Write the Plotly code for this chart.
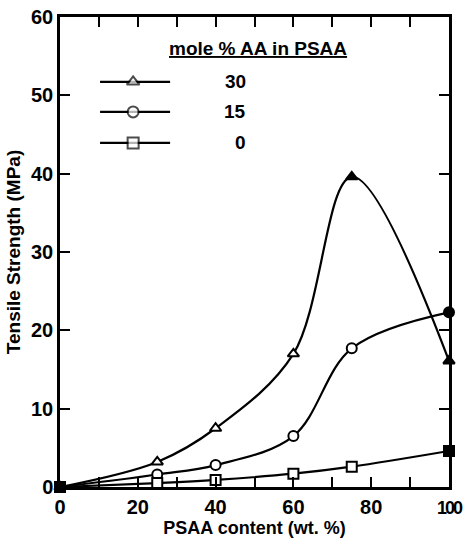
import plotly.graph_objects as go

# PSAA content (wt. %) and tensile strength (MPa)
psaa = [0, 25, 40, 60, 75, 100]
ts_30 = [0, 3.2, 7.5, 17.0, 39.6, 16.1]
ts_15 = [0, 1.6, 2.8, 6.5, 17.7, 22.3]
ts_0 = [0, 0.5, 0.9, 1.7, 2.6, 4.6]

series_names = ["30", "15", "0"]
series_symbols = ["triangle-up", "circle", "square"]
series_values = [ts_30, ts_15, ts_0]
# points printed as solid in the original
solid_30 = [True, False, False, False, True, True]
solid_15 = [True, False, False, False, False, True]
solid_0 = [True, False, False, False, False, True]
series_solid = [solid_30, solid_15, solid_0]

x_ticks = [0, 10, 20, 30, 40, 50, 60, 70, 80, 90, 100]
x_tick_text = ["0", "", "20", "", "40", "", "60", "", "80", "",
               "<span style='font-size:18px;letter-spacing:-2px'>100</span>"]
y_ticks = [0, 10, 20, 30, 40, 50, 60]

FONT = "Liberation Sans, Arial, sans-serif"

fig = go.Figure()

for name, sym, vals, solid in zip(series_names, series_symbols, series_values, series_solid):
    fig.add_trace(go.Scatter(
        x=psaa, y=vals,
        mode="lines+markers",
        cliponaxis=False,
        line=dict(color="black", width=2.2, shape="spline", smoothing=1.0),
        marker=dict(symbol=sym, size=10,
                    color=["black" if s else "white" for s in solid],
                    line=dict(color="black", width=2)),
        showlegend=False,
    ))

# hand-drawn style key on an overlay axis (0..1 over the plot area)
key_rows = [0.862, 0.798, 0.732]
for name, sym, yk in zip(series_names, series_symbols, key_rows):
    fig.add_trace(go.Scatter(
        x=[0.103, 0.188, 0.283], y=[yk, yk, yk],
        xaxis="x2", yaxis="y2",
        mode="lines+markers",
        line=dict(color="black", width=2.2),
        marker=dict(symbol=sym, size=[0, 11, 0], color="white",
                    line=dict(color="black", width=2)),
        showlegend=False,
    ))

axis_common = dict(
    showline=True, linecolor="black", linewidth=2.5, mirror="allticks",
    ticks="inside", ticklen=10, tickwidth=1.6, tickcolor="black",
    showgrid=False, zeroline=False, automargin=False,
    ticklabeloverflow="allow",
    tickfont=dict(family=FONT, size=20, color="black", weight="bold"),
)

annotations = [
    dict(text="<u>mole % AA in PSAA</u>", xref="paper", yref="paper",
         x=0.509, y=0.932, xanchor="center", yanchor="middle", showarrow=False,
         font=dict(family=FONT, size=19, color="black", weight="bold")),
]
for name, yk in zip(series_names, key_rows):
    annotations.append(dict(
        text=name, xref="paper", yref="paper", x=0.483, y=yk,
        xanchor="right", yanchor="middle", showarrow=False,
        font=dict(family=FONT, size=19, color="black", weight="bold")))

fig.update_layout(
    width=463, height=539,
    margin=dict(l=60, r=14, t=17, b=52),
    plot_bgcolor="white", paper_bgcolor="white",
    xaxis=dict(range=[0, 100], tickvals=x_ticks, ticktext=x_tick_text,
               title=dict(text="PSAA content (wt. %)", standoff=0,
                          font=dict(family=FONT, size=18, color="black", weight="bold")),
               **axis_common),
    yaxis=dict(range=[0, 60], tickvals=y_ticks,
               title=dict(text="Tensile Strength (MPa)", standoff=6,
                          font=dict(family=FONT, size=19, color="black", weight="bold")),
               **axis_common),
    xaxis2=dict(overlaying="x", range=[0, 1], visible=False),
    yaxis2=dict(overlaying="y", range=[0, 1], visible=False),
    annotations=annotations,
)

# drop the default page margin so the figure sits at the window's corner
fig.write_html("out.html", config={"displayModeBar": False},
               post_script="document.body.style.margin='0';")
